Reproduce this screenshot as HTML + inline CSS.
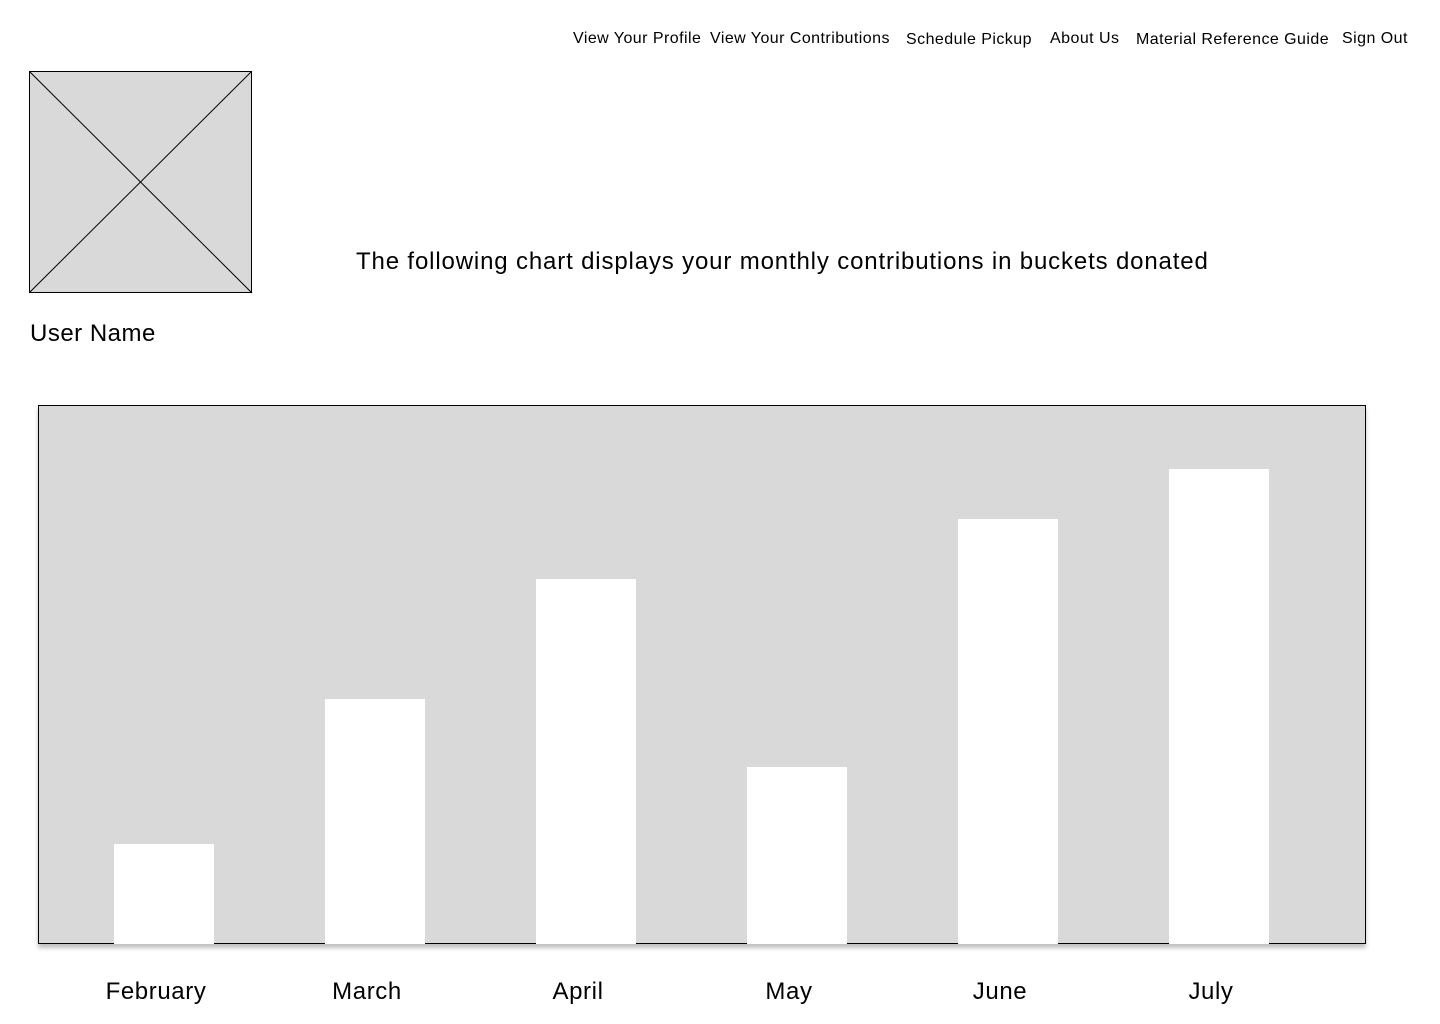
<!DOCTYPE html>
<html><head><meta charset="utf-8"><style>
body{margin:0;width:1440px;height:1024px;background:#fff;font-family:"Liberation Sans",sans-serif;position:relative;overflow:hidden;color:#000}
.nav{position:absolute;top:30px;font-size:16px;white-space:nowrap;letter-spacing:0.45px}
.abs{position:absolute;white-space:nowrap}
</style></head><body>
<div class="nav" style="left:573px">View Your Profile</div>
<div class="nav" style="left:710px">View Your Contributions</div>
<div class="nav" style="left:906px;top:31px">Schedule Pickup</div>
<div class="nav" style="left:1050px">About Us</div>
<div class="nav" style="left:1136px;top:31px">Material Reference Guide</div>
<div class="nav" style="left:1342px">Sign Out</div>
<svg class="abs" style="left:29px;top:71px" width="224" height="223">
<rect x="0.5" y="0.5" width="222" height="221" fill="#d9d9d9" stroke="#000" stroke-width="1"/>
<line x1="0" y1="0" x2="223" y2="222" stroke="#000" stroke-width="1"/>
<line x1="223" y1="0" x2="0" y2="222" stroke="#000" stroke-width="1"/>
</svg>
<div class="abs" style="left:30px;top:320px;font-size:24px;letter-spacing:0.5px">User Name</div>
<div class="abs" style="left:356px;top:248px;font-size:24px;letter-spacing:0.85px">The following chart displays your monthly contributions in buckets donated</div>
<svg id="chart" class="abs" style="left:0;top:0" width="1440" height="1024"></svg>
<script>
const categories=["February","March","April","May","June","July"];
const values=[20,49,73,35.4,85,95];
const NS="http://www.w3.org/2000/svg";
const svg=document.getElementById('chart');
const x0=38,x1=1365,yTop=405,yBase=943;
const pxPerUnit=5;
function xScale(i){return 114+i*211;}
function yScale(v){return yBase+1-v*pxPerUnit;}
function mk(t,a){const e=document.createElementNS(NS,t);for(const k in a)e.setAttribute(k,a[k]);svg.appendChild(e);return e;}
const defs=mk('defs',{});
defs.innerHTML='<filter id="sh" x="-5%" y="-5%" width="110%" height="115%"><feDropShadow dx="0" dy="4" stdDeviation="2" flood-color="#000" flood-opacity="0.25"/></filter>';
const bg=mk('rect',{x:x0+0.5,y:yTop+0.5,width:x1-x0,height:yBase-yTop,fill:'#d9d9d9',stroke:'#000','stroke-width':1,filter:'url(#sh)'});


categories.forEach((c,i)=>{
  const y=yScale(values[i]);
  const r=mk('rect',{x:xScale(i),y:y,width:100,height:yBase+1-y,fill:'#fff'});
  
  
  const t=mk('text',{x:xScale(i)+50-8,y:999,'text-anchor':'middle','font-size':24,'letter-spacing':0.6,'font-family':'Liberation Sans, sans-serif',fill:'#000'});
  t.textContent=c;
  
  
});
</script>
</body></html>
